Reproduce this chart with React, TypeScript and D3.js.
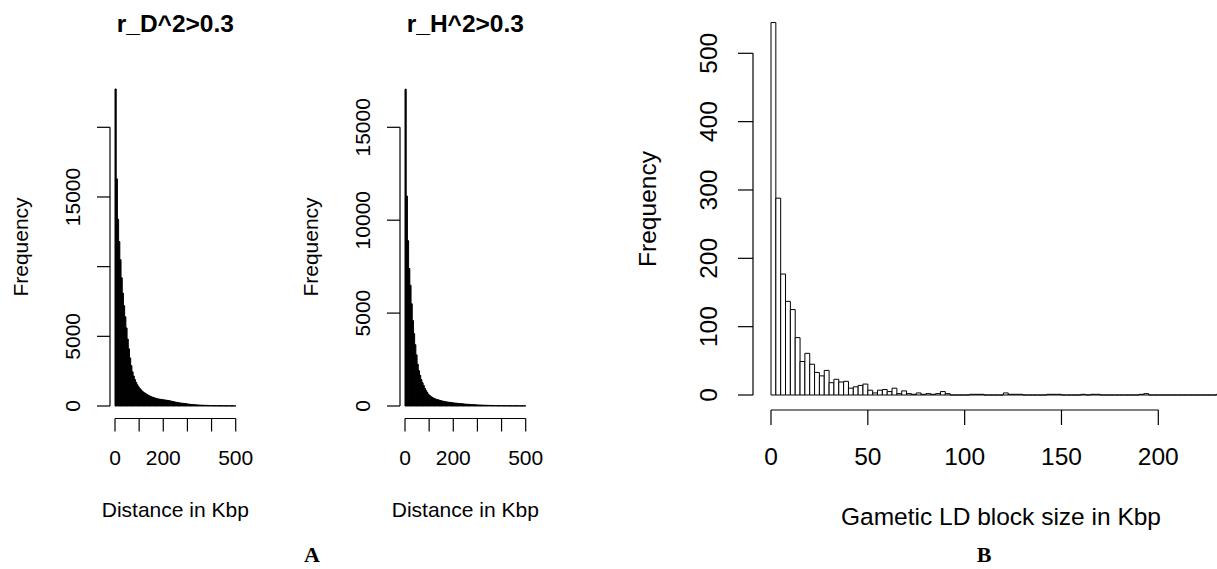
import React from "react";
import * as d3 from "d3";

// ---------- DATA ----------
// Panel A (left): r_D^2 > 0.3, distance histogram, 5 Kbp bins from 0 to 500
const rD2Counts: number[] = [
  22750, 16300, 13400, 11800, 10500, 9200, 8100, 7200, 6400, 5600,
  4800, 4100, 3450, 2900, 2450, 2150, 1900, 1700, 1520, 1380,
  1260, 1160, 1080, 1000, 940, 880, 830, 780, 730, 690,
  650, 620, 590, 560, 540, 510, 500, 480, 470, 455,
  440, 430, 420, 400, 390, 370, 350, 330, 310, 290,
  270, 255, 240, 225, 210, 200, 190, 180, 170, 160,
  140, 130, 120, 112, 104, 96, 88, 82, 76, 70,
  65, 60, 56, 52, 48, 45, 42, 39, 36, 34,
  32, 30, 28, 26, 25, 23, 22, 20, 19, 18,
  17, 16, 15, 14, 13, 12, 12, 11, 10, 9,
];
// Panel A (right): r_H^2 > 0.3
const rH2Counts: number[] = [
  17050, 11300, 8900, 7400, 6500, 5500, 4600, 3900, 3300, 2750,
  2250, 1900, 1650, 1420, 1250, 1100, 950, 830, 720, 620,
  560, 510, 470, 430, 400, 370, 350, 330, 310, 290,
  275, 260, 245, 230, 220, 210, 200, 190, 180, 172,
  165, 158, 150, 143, 136, 130, 124, 118, 112, 106,
  100, 95, 90, 85, 80, 76, 72, 68, 64, 60,
  57, 54, 51, 48, 45, 42, 40, 38, 36, 34,
  32, 30, 29, 28, 26, 25, 24, 23, 22, 21,
  20, 19, 18, 17, 16, 15, 15, 14, 13, 13,
  12, 11, 11, 10, 10, 9, 9, 8, 8, 7,
];
const distBinWidth = 5; // Kbp
// Panel B: gametic LD block size, 2.5 Kbp bins from 0 to 240
const blockCounts: number[] = [
  545, 288, 177, 137, 125, 84, 49, 61, 45, 33,
  28, 36, 18, 23, 19, 20, 10, 12, 14, 16,
  7, 3, 7, 8, 5, 10, 2, 6, 2, 1,
  3, 1, 2, 1, 2, 5, 2, 0, 0, 0,
  0, 1, 1, 1, 0, 0, 0, 0, 3, 1,
  1, 1, 0, 0, 0, 0, 0, 1, 1, 1,
  0, 0, 0, 0, 1, 0, 1, 1, 0, 0,
  0, 0, 0, 0, 0, 0, 1, 2, 0, 0,
  0, 0, 0, 0, 0, 0, 0, 0, 0, 0,
  0, 0, 1, 0, 0, 0,
];
const blockBinWidth = 2.5;

// Ticks
const distXTicks = [0, 100, 200, 300, 400, 500];
const distXLabels = [0, 200, 500];
const rD2YTicks = [0, 5000, 10000, 15000, 20000];
const rD2YLabels = [0, 5000, 15000];
const rH2YTicks = [0, 5000, 10000, 15000];
const rH2YLabels = [0, 5000, 10000, 15000];
const blockXTicks = [0, 50, 100, 150, 200];
const blockYTicks = [0, 100, 200, 300, 400, 500];

const titles = ["r_D^2>0.3", "r_H^2>0.3"];
const xTitleA = "Distance in Kbp";
const xTitleB = "Gametic LD block size in Kbp";
const yTitle = "Frequency";

const SANS = "'Liberation Sans', Arial, Helvetica, sans-serif";
const SERIF = "'Liberation Serif', 'Times New Roman', serif";

type Scale = d3.ScaleLinear<number, number>;

function Bars({ counts, bw, x, y, fill }: { counts: number[]; bw: number; x: Scale; y: Scale; fill: string }) {
  return (
    <g>
      {counts.map((c, i) => {
        const x0 = x(i * bw);
        const x1 = x((i + 1) * bw);
        const yt = y(c);
        const yb = y(0);
        const d = `M${x0},${yb}L${x0},${yt}L${x1},${yt}L${x1},${yb}Z`;
        return <path key={i} d={d} fill={fill} stroke="#000" strokeWidth={1} />;
      })}
    </g>
  );
}

function YAxis({ y, ticks, labels, axisX, tickLen, labelX, fs }: any) {
  return (
    <g>
      <line x1={axisX} x2={axisX} y1={y(ticks[0])} y2={y(ticks[ticks.length - 1])} stroke="#000" strokeWidth={1.2} />
      {ticks.map((t: number) => (
        <line key={t} x1={axisX - tickLen} x2={axisX} y1={y(t)} y2={y(t)} stroke="#000" strokeWidth={1.2} />
      ))}
      {labels.map((t: number) => (
        <text key={t} transform={`translate(${labelX},${y(t)}) rotate(-90)`} textAnchor="middle"
          fontFamily={SANS} fontSize={fs}>{t}</text>
      ))}
    </g>
  );
}

function XAxis({ x, ticks, labels, axisY, tickLen, labelY, fs }: any) {
  return (
    <g>
      <line x1={x(ticks[0])} x2={x(ticks[ticks.length - 1])} y1={axisY} y2={axisY} stroke="#000" strokeWidth={1.2} />
      {ticks.map((t: number) => (
        <line key={t} x1={x(t)} x2={x(t)} y1={axisY} y2={axisY + tickLen} stroke="#000" strokeWidth={1.2} />
      ))}
      {labels.map((t: number) => (
        <text key={t} x={x(t)} y={labelY} textAnchor="middle" fontFamily={SANS} fontSize={fs}>{t}</text>
      ))}
    </g>
  );
}

function PanelA({ counts, yTicks, yLabels, yMax, ox, title }: any) {
  const x = d3.scaleLinear().domain([0, 500]).range([ox + 115, ox + 235.7]);
  const y = d3.scaleLinear().domain([0, yMax]).range([406, 127.3]);
  const cx = ox + 175.3;
  return (
    <g>
      <Bars counts={counts} bw={distBinWidth} x={x} y={y} fill="#000" />
      <YAxis y={y} ticks={yTicks} labels={yLabels} axisX={ox + 110} tickLen={13} labelX={ox + 80} fs={21} />
      <XAxis x={x} ticks={distXTicks} labels={distXLabels} axisY={418.5} tickLen={13} labelY={465} fs={21} />
      <text x={cx} y={32} textAnchor="middle" fontFamily={SANS} fontWeight="bold" fontSize={24.5}>{title}</text>
      <text x={cx} y={517} textAnchor="middle" fontFamily={SANS} fontSize={21}>{xTitleA}</text>
      <text transform={`translate(${ox + 28},247) rotate(-90)`} textAnchor="middle" fontFamily={SANS} fontSize={21}>{yTitle}</text>
    </g>
  );
}

export default function App() {
  const xB = d3.scaleLinear().domain([0, 200]).range([771, 1158.3]);
  const yB = d3.scaleLinear().domain([0, 500]).range([395, 53.3]);
  return (
    <svg width={1217} height={569} style={{ position: "absolute", left: 0, top: 0, background: "#fff" }}>
      <rect x={0} y={0} width={1217} height={569} fill="#fff" />
      <PanelA counts={rD2Counts} yTicks={rD2YTicks} yLabels={rD2YLabels} yMax={20000} ox={0} title={titles[0]} />
      <PanelA counts={rH2Counts} yTicks={rH2YTicks} yLabels={rH2YLabels} yMax={15000} ox={290} title={titles[1]} />
      <Bars counts={blockCounts} bw={blockBinWidth} x={xB} y={yB} fill="#fff" />
      <YAxis y={yB} ticks={blockYTicks} labels={blockYTicks} axisX={753} tickLen={15} labelX={717} fs={24.5} />
      <XAxis x={xB} ticks={blockXTicks} labels={blockXTicks} axisY={410} tickLen={15} labelY={465} fs={24.5} />
      <text x={1001} y={525} textAnchor="middle" fontFamily={SANS} fontSize={24.5}>{xTitleB}</text>
      <text transform="translate(656,209) rotate(-90)" textAnchor="middle" fontFamily={SANS} fontSize={24.5}>{yTitle}</text>
      <text x={312} y={562} textAnchor="middle" fontFamily={SERIF} fontWeight="bold" fontSize={22}>A</text>
      <text x={984} y={562} textAnchor="middle" fontFamily={SERIF} fontWeight="bold" fontSize={22}>B</text>
    </svg>
  );
}
